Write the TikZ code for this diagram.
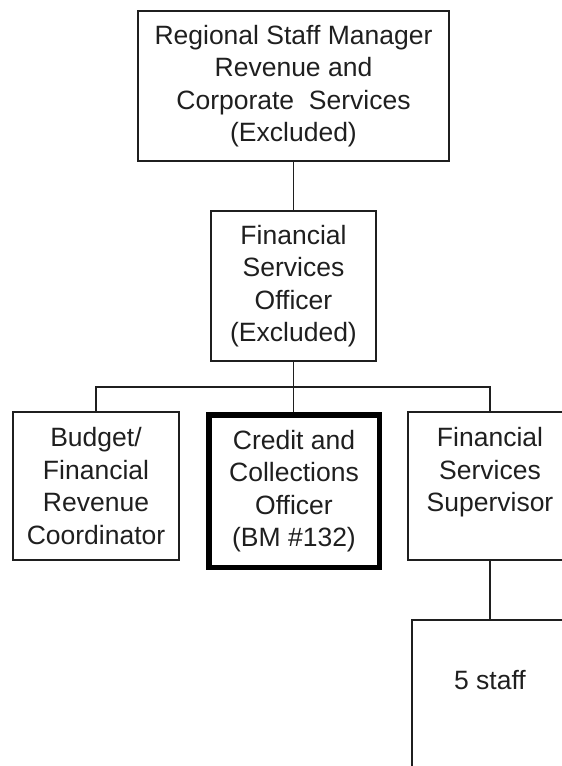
\documentclass[tikz,border=0pt]{standalone}
\usepackage{fontspec}
\setmainfont{Liberation Sans}
\begin{document}
\begin{tikzpicture}[x=1pt,y=-1pt,
  box/.style={draw=black!88, line width=1.8pt, inner sep=0pt, align=center, text=black!88,
    font=\fontsize{26.5}{32.5}\selectfont},
  thickbox/.style={box, line width=5.5pt, draw=black},
  conn/.style={draw=black!88, line width=1.8pt, line join=miter}]
\useasboundingbox (0,0) rectangle (562,766);
\clip (0,0) rectangle (562,766);
\node[box, minimum width=311pt, minimum height=150pt] (rsm) at (293.5,86)
  {Regional Staff Manager\\Revenue and\\Corporate\ \ Services\\(Excluded)};
\node[box, minimum width=165pt, minimum height=150pt] (fso) at (293.5,286)
  {Financial\\Services\\Officer\\(Excluded)};
\node[box, minimum width=166pt, minimum height=148pt] (bfr) at (96,486)
  {Budget/\\Financial\\Revenue\\Coordinator};
\node[thickbox, minimum width=170.5pt, minimum height=152.5pt] (cco) at (294,491)
  {Credit and\\Collections\\Officer\\(BM \#132)};
\node[box, minimum width=164pt, minimum height=148pt] (fss) at (490,486)
  {Financial\\Services\\Supervisor\\\mbox{}};
\node[box, minimum width=156pt, minimum height=150pt] (staff) at (490,695) {};
\node[font=\fontsize{26.5}{32.5}\selectfont, text=black!88, inner sep=0pt] (stafflbl) at (490,680) {5 staff};
\coordinate (busL) at (96,387);
\coordinate (busR) at (490,387);
\coordinate (busM) at (293.5,387);
\draw[conn] (rsm.south) -- (fso.south |- rsm.south) -- (fso.north);
\draw[conn] (fso.south) -- (busM);
\draw[conn] (bfr.north) -- (busL) -- (busR) -- (fss.north);
\draw[conn] (busM) -- (busM |- cco.north);
\draw[conn] (fss.south) -- (staff.north);
\end{tikzpicture}
\end{document}
